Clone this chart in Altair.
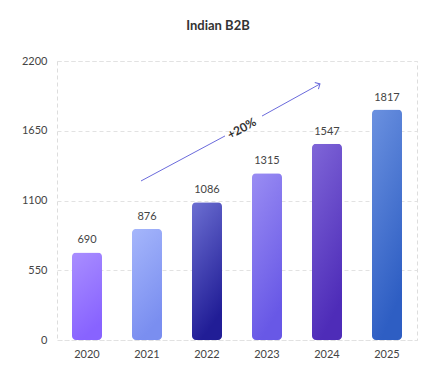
import altair as alt
import pandas as pd

years = ["2020", "2021", "2022", "2023", "2024", "2025"]
values = [690, 876, 1086, 1315, 1547, 1817]
top_colors = ["#a98eff", "#a5b6fb", "#6c6fd2", "#9a8df3", "#7f66d8", "#6b91e0"]
bottom_colors = ["#8863ff", "#7a8ef0", "#211d96", "#6858e6", "#4e2cb8", "#2e5ec3"]
y_ticks = [0, 550, 1100, 1650, 2200]

# annotation (in data space: x = band index units, y = value units)
arrow_x = [1.4, 2.8, 3.417, 4.383]
arrow_y = [1254, 1609, 1766, 2019]
arrow_seg = [0, 0, 1, 1]
label_text = ["+20%"]
label_x = [3.08]
label_y = [1668]

FONT = "Lato"
df = pd.DataFrame({"year": years, "value": values})

xenc = alt.X("year:N", scale=alt.Scale(domain=years, paddingInner=0.5, paddingOuter=0.25),
             axis=alt.Axis(title=None, labelAngle=0, ticks=False, domain=False, grid=False,
                           labelPadding=8, labelFontSize=11, labelColor="#444", labelFont=FONT))
yenc = alt.Y("value:Q", scale=alt.Scale(domain=[0, 2200]),
             axis=alt.Axis(title=None, values=y_ticks, format="d", ticks=False, domain=False,
                           labelPadding=10, labelFontSize=11, labelColor="#444", labelFont=FONT,
                           gridColor="#e2e2e2", gridDash=[4, 3]))

layers = []
for i, yr in enumerate(years):
    grad = alt.Gradient(gradient="linear",
                        stops=[alt.GradientStop(color=top_colors[i], offset=0),
                               alt.GradientStop(color=bottom_colors[i], offset=1)],
                        x1=0, x2=0.3, y1=0, y2=1)
    layers.append(
        alt.Chart(df).transform_filter(alt.datum.year == yr)
        .mark_bar(color=grad, cornerRadius=4, size=30)
        .encode(x=xenc, y=yenc)
    )

labels = alt.Chart(df).mark_text(baseline="bottom", dy=-7, fontSize=11, color="#444", font=FONT).encode(
    x=xenc, y=yenc, text=alt.Text("value:Q", format="d"))

bars = alt.layer(*layers, labels)

adf = pd.DataFrame({"ax": arrow_x, "value": arrow_y, "seg": arrow_seg})
ldf = pd.DataFrame({"ax": label_x, "value": label_y, "t": label_text})
hdf = adf.iloc[[-1]]

axq = alt.X("ax:Q", scale=alt.Scale(domain=[0, 6]), axis=None)

arrow = alt.Chart(adf).mark_line(color="#6b6bdc", strokeWidth=1).encode(x=axq, y=yenc, detail="seg:N")
head = alt.Chart(hdf).mark_point(shape="M-0.7,0.7L0,0L0.7,0.7", angle=61.5, size=120, filled=False,
                                 color="#6b6bdc", strokeWidth=1, opacity=1).encode(x=axq, y=yenc)
txt = alt.Chart(ldf).mark_text(angle=331.5, fontSize=12, fontWeight="bold", color="#333", font=FONT).encode(
    x=axq, y=yenc, text="t:N")

annot = alt.layer(arrow, head, txt)

chart = alt.layer(bars, annot).resolve_scale(x="independent").properties(
    width=360, height=279,
    title=alt.TitleParams("Indian B2B", fontSize=13, fontWeight="bold", color="#333", font=FONT,
                          anchor="middle", dx=-19, offset=22),
    autosize=alt.AutoSizeParams(type="none"),
    padding={"left": 49, "top": 53, "right": 10, "bottom": 30},
).configure_view(stroke="#dddddd", strokeDash=[4, 3])

chart.save("out.html", embed_options={"renderer": "svg", "actions": False})
